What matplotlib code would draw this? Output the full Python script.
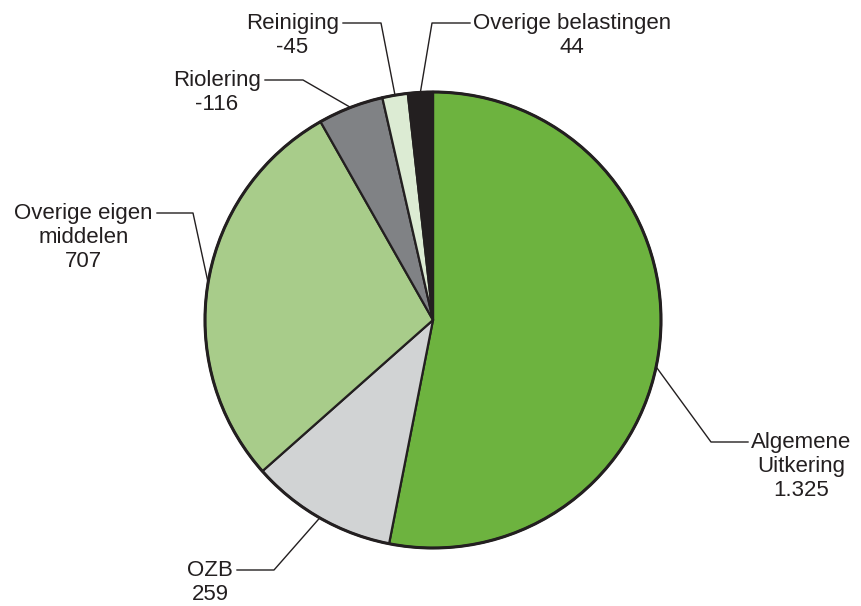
import numpy as np
import matplotlib
matplotlib.use("Agg")
import matplotlib.pyplot as plt

plt.rcParams['font.family'] = ['Liberation Sans', 'DejaVu Sans']

# Data (absolute sizes drive the slices, labels carry the signed numbers)
names = ["Algemene\nUitkering", "OZB", "Overige eigen\nmiddelen",
         "Riolering", "Reiniging", "Overige belastingen"]
values = [1325, 259, 707, 116, 45, 44]
value_labels = ["1.325", "259", "707", "-116", "-45", "44"]
colors = ["#6db33f", "#d1d3d4", "#a8cc8a", "#808285", "#dcebd3", "#231f20"]

# Layout in pixel units (y measured from bottom)
W, H = 861, 606
center = (433, H - 320)
radius = 228
# (elbow x, elbow y, end x, side) for each label's leader line
leaders = [
    (711, H - 442, 748, "left"),
    (274, H - 570, 237, "right"),
    (193, H - 213, 157, "right"),
    (303, H - 80, 265, "right"),
    (381, H - 23, 343, "right"),
    (432, H - 23, 470, "left"),
]
angle_offset = [-6.3, 0, 0, 0, 0, 0]

fig = plt.figure(figsize=(W / 100, H / 100), dpi=100)
ax = fig.add_axes([0, 0, 1, 1])

wedges, _ = ax.pie(values, colors=colors, startangle=90, counterclock=False,
                   center=center, radius=radius,
                   wedgeprops=dict(edgecolor="#231f20", linewidth=1.6))
# thicker outer rim
ax.add_patch(plt.Circle(center, radius, fill=False, edgecolor="#231f20", linewidth=2.2))

for w, name, vl, (ex, ey, tx, side), off in zip(wedges, names, value_labels, leaders, angle_offset):
    mid = np.deg2rad((w.theta1 + w.theta2) / 2 + off)
    px = center[0] + radius * np.cos(mid)
    py = center[1] + radius * np.sin(mid)
    ax.plot([px, ex, tx], [py, ey, ey], color="#231f20", linewidth=1.0)
    if side == "left":
        xt, ha = tx + 3, "left"
    else:
        xt, ha = tx - 4, "right"
    ax.text(xt, ey + 10, name + "\n" + vl, ha=ha, va="top", multialignment="center",
            fontsize=16, color="#231f20", linespacing=1.2)

ax.set_xlim(0, W)
ax.set_ylim(0, H)
ax.set_aspect('equal')
ax.axis('off')

fig.savefig("out.png", dpi=100)
